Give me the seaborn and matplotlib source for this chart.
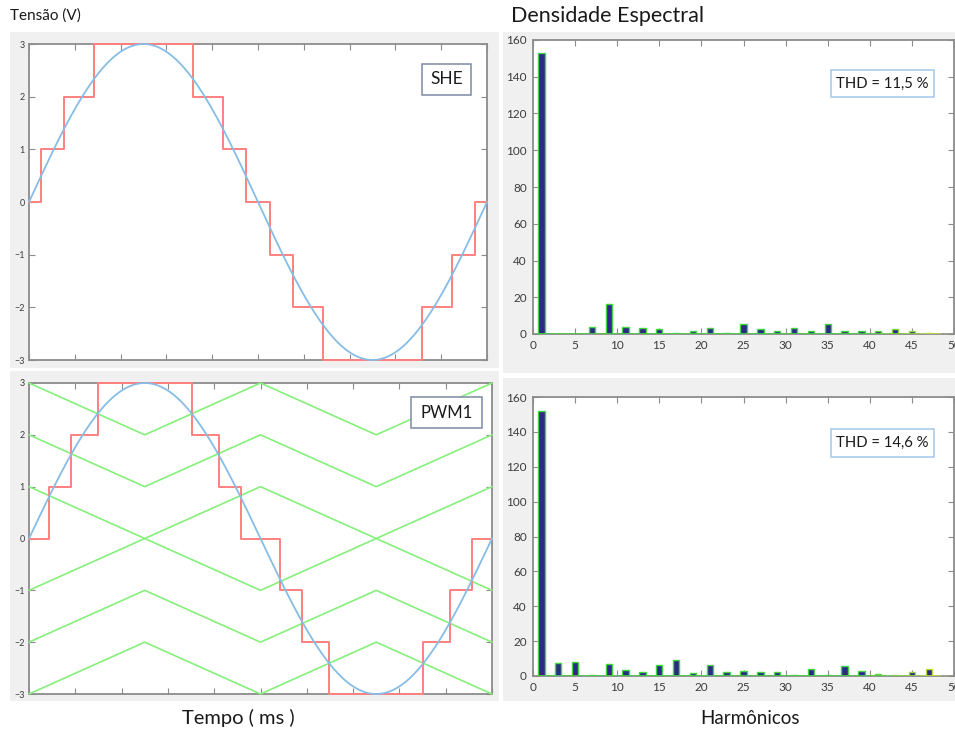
import numpy as np
import matplotlib
matplotlib.use("Agg")
import matplotlib.pyplot as plt
from matplotlib.patches import Rectangle
from matplotlib.colors import to_rgb
import seaborn as sns

sns.set_theme(style="white")
plt.rcParams['font.family'] = ['Lato', 'DejaVu Sans']

W, H = 955, 733

# --- time-domain data (ms, one fundamental period) ---
period_ms = 20.0
amplitude = 3.0

she_edges = [0.0, 0.51, 1.53, 2.84, 7.16, 8.47, 9.49, 10.51, 11.53, 12.84, 17.16, 18.47, 19.49, 20.0]
she_levels = [0, 1, 2, 3, 2, 1, 0, -1, -2, -3, -2, -1, 0, 0]

pwm_edges = [0.0, 0.86, 1.80, 2.96, 7.04, 8.20, 9.14, 10.86, 11.80, 12.96, 17.04, 18.20, 19.14, 20.0]
pwm_levels = [0, 1, 2, 3, 2, 1, 0, -1, -2, -3, -2, -1, 0, 0]

carrier_t = [0, 5, 10, 15, 20]
carrier_p3 = [3, 2, 3, 2, 3]
carrier_p2 = [2, 1, 2, 1, 2]
carrier_p1 = [1, 0, 1, 0, 1]
carrier_m1 = [-1, 0, -1, 0, -1]
carrier_m2 = [-2, -1, -2, -1, -2]
carrier_m3 = [-3, -2, -3, -2, -3]
carriers = [carrier_p3, carrier_p2, carrier_p1, carrier_m1, carrier_m2, carrier_m3]

# --- harmonic spectra ---
harmonic_order = list(range(1, 50, 2))
she_spectrum = [153.0, 0.2, 0.2, 4.0, 16.5, 4.0, 3.2, 2.8, 0.7, 1.4, 3.2, 0.7, 5.3,
                2.8, 1.9, 3.2, 1.9, 5.7, 1.9, 1.9, 1.4, 2.8, 1.9, 0.6, 0.1]
pwm_spectrum = [152.0, 7.7, 8.1, 0.3, 6.6, 3.4, 2.5, 6.4, 9.2, 1.9, 6.4, 2.5, 3.0,
                2.5, 2.1, 0.3, 3.8, 0.5, 5.5, 3.0, 1.1, 0.8, 2.5, 3.8, 0.1]

she_thd = "11,5"
pwm_thd = "14,6"

RED = "#ff8080"
BLUE = "#86bde6"
GREEN = "#86f07c"
NAVY = "#2c2a86"
BAR_EDGE = "#43d443"
SPINE = "#8c8c8c"
PANEL = "#f0f0f0"

fig = plt.figure(figsize=(W / 100, H / 100), dpi=100)
fig.patch.set_facecolor("white")


def frac_rect(l, t, r, b):
    return [l / W, 1 - b / H, (r - l) / W, (b - t) / H]


def panel(l, t, r, b):
    fig.patches.append(Rectangle((l / W, 1 - b / H), (r - l) / W, (b - t) / H,
                                 transform=fig.transFigure, facecolor=PANEL,
                                 edgecolor="none", zorder=-5))


def label_box(l, t, r, b, text, edge, size):
    fig.patches.append(Rectangle((l / W, 1 - b / H), (r - l) / W, (b - t) / H,
                                 transform=fig.transFigure, facecolor="white",
                                 edgecolor=edge, linewidth=1.1, zorder=5))
    fig.text((l + r) / 2 / W, 1 - (t + b) / 2 / H, text, ha="center", va="center",
             fontsize=size, color="#1a1a1a", zorder=6)


def style_axes(ax, labelsize, pad):
    ax.set_facecolor("white")
    for s in ax.spines.values():
        s.set_color(SPINE)
        s.set_linewidth(1.3)
        s.set_visible(True)
    ax.tick_params(direction="in", length=4, width=0.8, color=SPINE,
                   labelcolor="#3c3c3c", labelsize=labelsize, pad=pad,
                   top=True, right=True, bottom=True, left=True,
                   labeltop=False, labelright=False)
    ax.set_xlabel("")
    ax.set_ylabel("")
    ax.grid(False)


# gray panel backgrounds
panel(10, 32, 499, 368)
panel(10, 371, 499, 701)
panel(503, 32, 955, 373)
panel(503, 378, 955, 701)

t_dense = np.linspace(0, period_ms, 600)
sine = amplitude * np.sin(2 * np.pi * t_dense / period_ms)


def time_panel(rect, edges, levels, with_carriers):
    ax = fig.add_axes(frac_rect(*rect))
    if with_carriers:
        for c in carriers:
            sns.lineplot(x=carrier_t, y=c, color=GREEN, lw=1.2, ax=ax,
                         estimator=None, sort=False, zorder=3, clip_on=False)
    sns.lineplot(x=edges, y=levels, color=RED, lw=1.4, drawstyle="steps-post",
                 ax=ax, estimator=None, sort=False, zorder=3, clip_on=False)
    sns.lineplot(x=t_dense, y=sine, color=BLUE, lw=1.3, ax=ax,
                 estimator=None, sort=False, zorder=3, clip_on=False)
    ax.set_xlim(0, period_ms)
    ax.set_ylim(-3, 3)
    ax.set_xticks(np.arange(0, 20.1, 2))
    ax.set_xticklabels([])
    ax.set_yticks(range(-3, 4))
    style_axes(ax, 6.5, 3)
    return ax


def spectrum_panel(rect, values):
    ax = fig.add_axes(frac_rect(*rect))
    sns.barplot(x=harmonic_order, y=values, native_scale=True, width=0.38,
                color=NAVY, saturation=1, edgecolor=BAR_EDGE, linewidth=1.0,
                ax=ax, zorder=3)
    g = np.array(to_rgb(BAR_EDGE))
    yel = np.array(to_rgb("#d4d84a"))
    for patch, order in zip(ax.patches, harmonic_order):
        f = float(np.clip((order - 39) / 10, 0, 1))
        patch.set_edgecolor(tuple(g * (1 - f) + yel * f))
    # bar baseline
    xs = np.linspace(0.6, 48.4, 60)
    for x0, x1 in zip(xs[:-1], xs[1:]):
        f = float(np.clip((x0 - 39) / 10, 0, 1))
        ax.plot([x0, x1], [0, 0], color=tuple(g * (1 - f) + yel * f), lw=1.2,
                zorder=4, solid_capstyle="butt")
    ax.set_xlim(0, 50)
    ax.set_ylim(0, 160)
    ax.set_xticks(range(0, 51, 5))
    ax.set_yticks(range(0, 161, 20))
    style_axes(ax, 8.5, 4.5)
    return ax


time_panel((29, 44, 487, 360), she_edges, she_levels, False)
time_panel((29, 383, 492, 694), pwm_edges, pwm_levels, True)
spectrum_panel((533, 40, 954, 334), she_spectrum)
spectrum_panel((533, 397, 954, 676), pwm_spectrum)

label_box(422, 64, 471, 95, "SHE", "#7d8aa6", 12.5)
label_box(411, 397, 482, 428, "PWM1", "#7d8aa6", 12)
label_box(831, 70, 934, 97, f"THD = {she_thd} %", "#a3c8ea", 10.7)
label_box(831, 429, 934, 457, f"THD = {pwm_thd} %", "#a3c8ea", 10.7)

fig.text(10 / W, 1 - 16 / H, "Tensão (V)", ha="left", va="center", fontsize=11, color="#1a1a1a")
fig.text(511 / W, 1 - 16 / H, "Densidade Espectral", ha="left", va="center", fontsize=15.5, color="#1a1a1a")
fig.text(238 / W, 1 - 718 / H, "Tempo ( ms )", ha="center", va="center", fontsize=14.5, color="#1a1a1a")
fig.text(750 / W, 1 - 718 / H, "Harmônicos", ha="center", va="center", fontsize=13.5, color="#1a1a1a")

fig.savefig("out.png", dpi=100, facecolor="white")
